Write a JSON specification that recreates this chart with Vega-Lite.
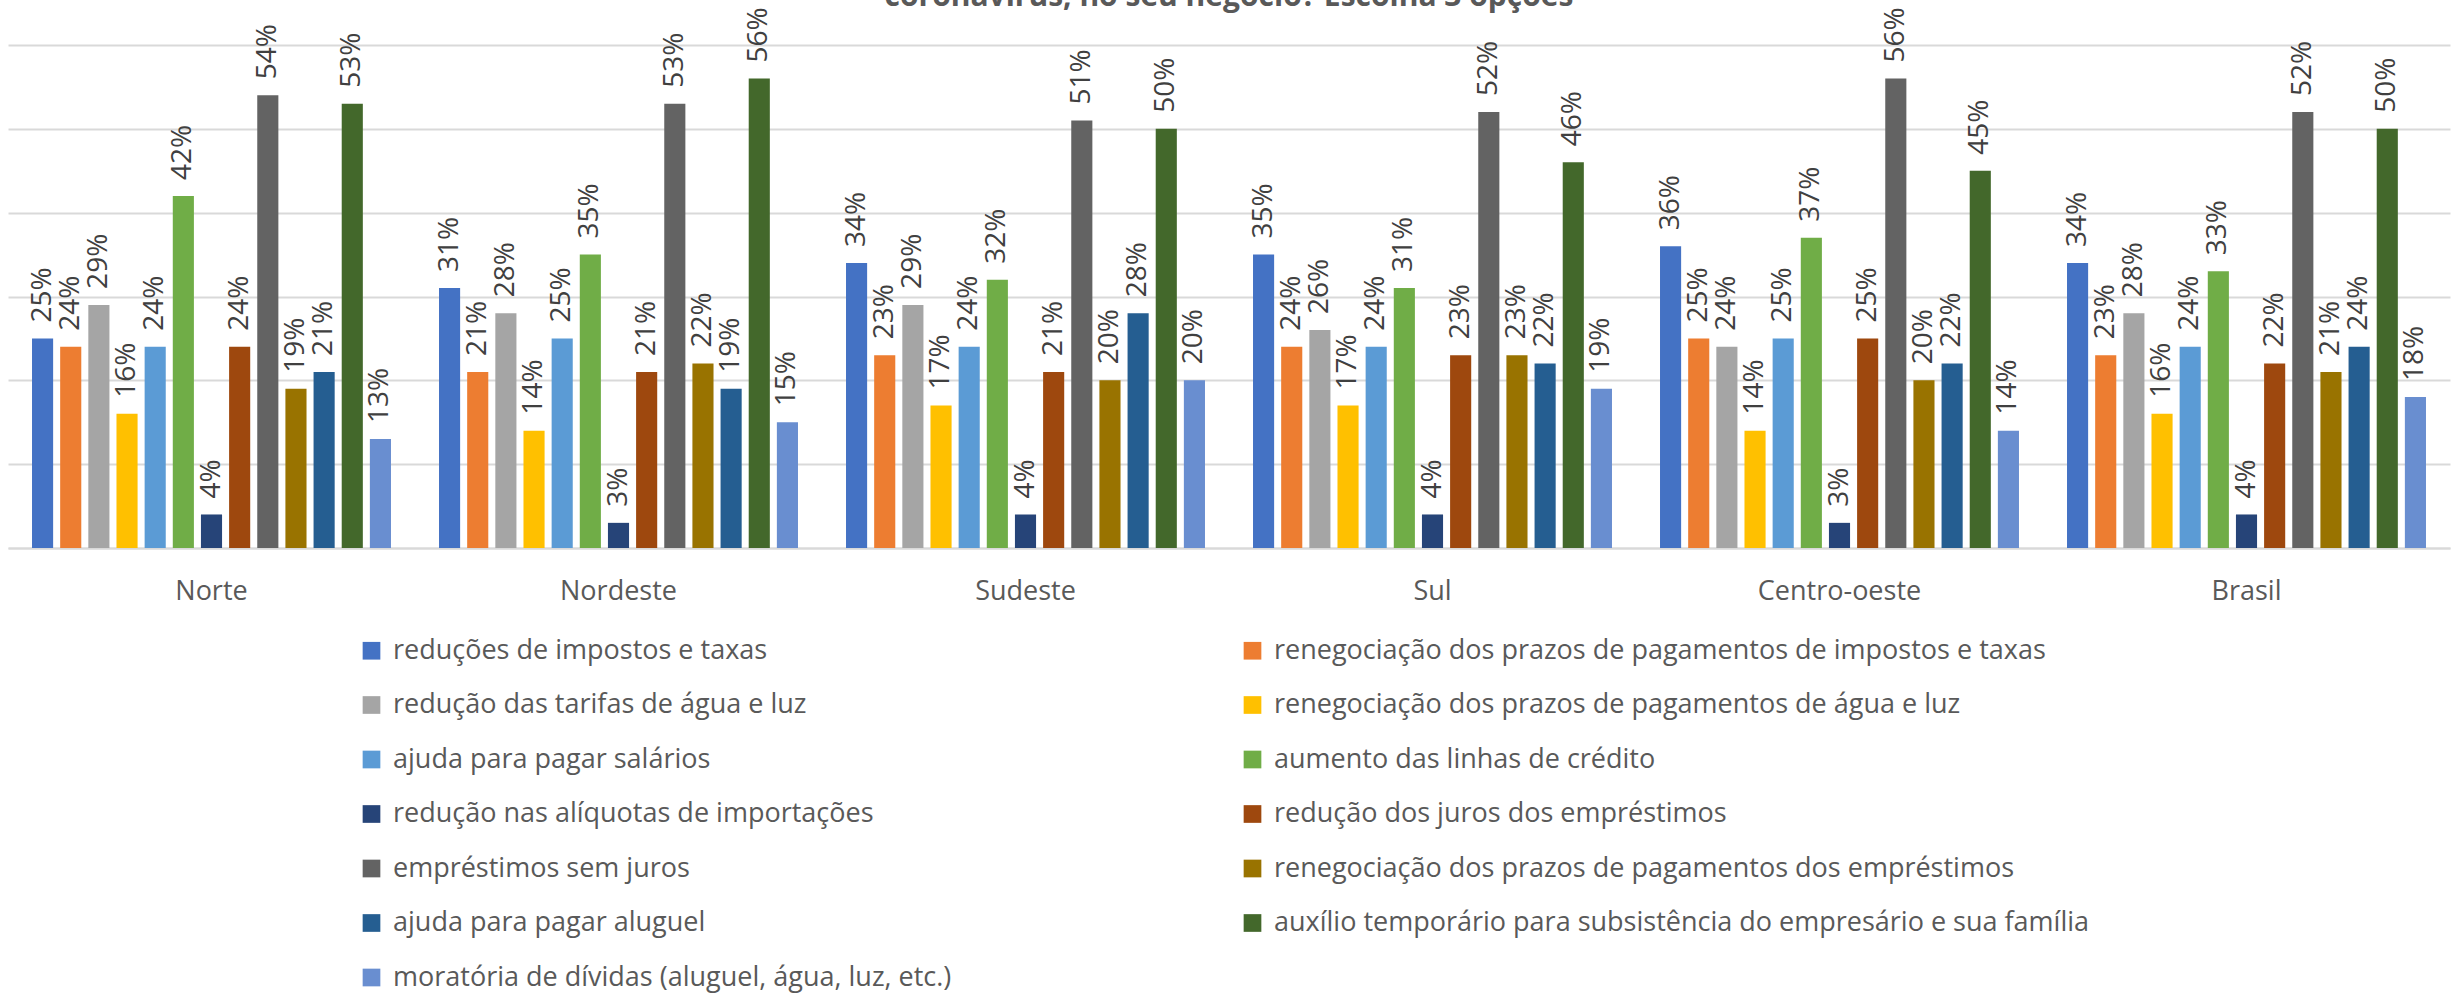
{
  "$schema": "https://vega.github.io/schema/vega-lite/v6.json",
  "autosize": {"type": "none"},
  "width": 2442,
  "height": 503,
  "padding": {"left": 8, "top": 45, "right": 9, "bottom": 452},
  "background": "white",
  "title": {
    "text": "coronavírus, no seu negócio? Escolha 3 opções",
    "fontSize": 30,
    "fontWeight": "bold",
    "color": "#595959",
    "baseline": "alphabetic",
    "anchor": "middle",
    "frame": "group",
    "offset": -29
  },
  "config": {
    "font": "Open Sans",
    "view": {"stroke": null}
  },
  "data": {
    "values": [
      {"r": "Norte", "s": "reduções de impostos e taxas", "v": 0.25},
      {"r": "Norte", "s": "renegociação dos prazos de pagamentos de impostos e taxas", "v": 0.24},
      {"r": "Norte", "s": "redução das tarifas de água e luz", "v": 0.29},
      {"r": "Norte", "s": "renegociação dos prazos de pagamentos de água e luz", "v": 0.16},
      {"r": "Norte", "s": "ajuda para pagar salários", "v": 0.24},
      {"r": "Norte", "s": "aumento das linhas de crédito", "v": 0.42},
      {"r": "Norte", "s": "redução nas alíquotas de importações", "v": 0.04},
      {"r": "Norte", "s": "redução dos juros dos empréstimos", "v": 0.24},
      {"r": "Norte", "s": "empréstimos sem juros", "v": 0.54},
      {"r": "Norte", "s": "renegociação dos prazos de pagamentos dos empréstimos", "v": 0.19},
      {"r": "Norte", "s": "ajuda para pagar aluguel", "v": 0.21},
      {"r": "Norte", "s": "auxílio temporário para subsistência do empresário e sua família", "v": 0.53},
      {"r": "Norte", "s": "moratória de dívidas (aluguel, água, luz, etc.)", "v": 0.13},
      {"r": "Nordeste", "s": "reduções de impostos e taxas", "v": 0.31},
      {"r": "Nordeste", "s": "renegociação dos prazos de pagamentos de impostos e taxas", "v": 0.21},
      {"r": "Nordeste", "s": "redução das tarifas de água e luz", "v": 0.28},
      {"r": "Nordeste", "s": "renegociação dos prazos de pagamentos de água e luz", "v": 0.14},
      {"r": "Nordeste", "s": "ajuda para pagar salários", "v": 0.25},
      {"r": "Nordeste", "s": "aumento das linhas de crédito", "v": 0.35},
      {"r": "Nordeste", "s": "redução nas alíquotas de importações", "v": 0.03},
      {"r": "Nordeste", "s": "redução dos juros dos empréstimos", "v": 0.21},
      {"r": "Nordeste", "s": "empréstimos sem juros", "v": 0.53},
      {"r": "Nordeste", "s": "renegociação dos prazos de pagamentos dos empréstimos", "v": 0.22},
      {"r": "Nordeste", "s": "ajuda para pagar aluguel", "v": 0.19},
      {"r": "Nordeste", "s": "auxílio temporário para subsistência do empresário e sua família", "v": 0.56},
      {"r": "Nordeste", "s": "moratória de dívidas (aluguel, água, luz, etc.)", "v": 0.15},
      {"r": "Sudeste", "s": "reduções de impostos e taxas", "v": 0.34},
      {"r": "Sudeste", "s": "renegociação dos prazos de pagamentos de impostos e taxas", "v": 0.23},
      {"r": "Sudeste", "s": "redução das tarifas de água e luz", "v": 0.29},
      {"r": "Sudeste", "s": "renegociação dos prazos de pagamentos de água e luz", "v": 0.17},
      {"r": "Sudeste", "s": "ajuda para pagar salários", "v": 0.24},
      {"r": "Sudeste", "s": "aumento das linhas de crédito", "v": 0.32},
      {"r": "Sudeste", "s": "redução nas alíquotas de importações", "v": 0.04},
      {"r": "Sudeste", "s": "redução dos juros dos empréstimos", "v": 0.21},
      {"r": "Sudeste", "s": "empréstimos sem juros", "v": 0.51},
      {"r": "Sudeste", "s": "renegociação dos prazos de pagamentos dos empréstimos", "v": 0.20},
      {"r": "Sudeste", "s": "ajuda para pagar aluguel", "v": 0.28},
      {"r": "Sudeste", "s": "auxílio temporário para subsistência do empresário e sua família", "v": 0.50},
      {"r": "Sudeste", "s": "moratória de dívidas (aluguel, água, luz, etc.)", "v": 0.20},
      {"r": "Sul", "s": "reduções de impostos e taxas", "v": 0.35},
      {"r": "Sul", "s": "renegociação dos prazos de pagamentos de impostos e taxas", "v": 0.24},
      {"r": "Sul", "s": "redução das tarifas de água e luz", "v": 0.26},
      {"r": "Sul", "s": "renegociação dos prazos de pagamentos de água e luz", "v": 0.17},
      {"r": "Sul", "s": "ajuda para pagar salários", "v": 0.24},
      {"r": "Sul", "s": "aumento das linhas de crédito", "v": 0.31},
      {"r": "Sul", "s": "redução nas alíquotas de importações", "v": 0.04},
      {"r": "Sul", "s": "redução dos juros dos empréstimos", "v": 0.23},
      {"r": "Sul", "s": "empréstimos sem juros", "v": 0.52},
      {"r": "Sul", "s": "renegociação dos prazos de pagamentos dos empréstimos", "v": 0.23},
      {"r": "Sul", "s": "ajuda para pagar aluguel", "v": 0.22},
      {"r": "Sul", "s": "auxílio temporário para subsistência do empresário e sua família", "v": 0.46},
      {"r": "Sul", "s": "moratória de dívidas (aluguel, água, luz, etc.)", "v": 0.19},
      {"r": "Centro-oeste", "s": "reduções de impostos e taxas", "v": 0.36},
      {"r": "Centro-oeste", "s": "renegociação dos prazos de pagamentos de impostos e taxas", "v": 0.25},
      {"r": "Centro-oeste", "s": "redução das tarifas de água e luz", "v": 0.24},
      {"r": "Centro-oeste", "s": "renegociação dos prazos de pagamentos de água e luz", "v": 0.14},
      {"r": "Centro-oeste", "s": "ajuda para pagar salários", "v": 0.25},
      {"r": "Centro-oeste", "s": "aumento das linhas de crédito", "v": 0.37},
      {"r": "Centro-oeste", "s": "redução nas alíquotas de importações", "v": 0.03},
      {"r": "Centro-oeste", "s": "redução dos juros dos empréstimos", "v": 0.25},
      {"r": "Centro-oeste", "s": "empréstimos sem juros", "v": 0.56},
      {"r": "Centro-oeste", "s": "renegociação dos prazos de pagamentos dos empréstimos", "v": 0.20},
      {"r": "Centro-oeste", "s": "ajuda para pagar aluguel", "v": 0.22},
      {"r": "Centro-oeste", "s": "auxílio temporário para subsistência do empresário e sua família", "v": 0.45},
      {"r": "Centro-oeste", "s": "moratória de dívidas (aluguel, água, luz, etc.)", "v": 0.14},
      {"r": "Brasil", "s": "reduções de impostos e taxas", "v": 0.34},
      {"r": "Brasil", "s": "renegociação dos prazos de pagamentos de impostos e taxas", "v": 0.23},
      {"r": "Brasil", "s": "redução das tarifas de água e luz", "v": 0.28},
      {"r": "Brasil", "s": "renegociação dos prazos de pagamentos de água e luz", "v": 0.16},
      {"r": "Brasil", "s": "ajuda para pagar salários", "v": 0.24},
      {"r": "Brasil", "s": "aumento das linhas de crédito", "v": 0.33},
      {"r": "Brasil", "s": "redução nas alíquotas de importações", "v": 0.04},
      {"r": "Brasil", "s": "redução dos juros dos empréstimos", "v": 0.22},
      {"r": "Brasil", "s": "empréstimos sem juros", "v": 0.52},
      {"r": "Brasil", "s": "renegociação dos prazos de pagamentos dos empréstimos", "v": 0.21},
      {"r": "Brasil", "s": "ajuda para pagar aluguel", "v": 0.24},
      {"r": "Brasil", "s": "auxílio temporário para subsistência do empresário e sua família", "v": 0.50},
      {"r": "Brasil", "s": "moratória de dívidas (aluguel, água, luz, etc.)", "v": 0.18}
    ]
  },
  "encoding": {
    "x": {
      "field": "r",
      "type": "nominal",
      "sort": ["Norte", "Nordeste", "Sudeste", "Sul", "Centro-oeste", "Brasil"],
      "scale": {"paddingInner": 0.118, "paddingOuter": 0.059},
      "axis": {
        "title": null,
        "labelAngle": 0,
        "labelFontSize": 27,
        "labelColor": "#595959",
        "labelPadding": 30,
        "ticks": false,
        "domainColor": "#d9d9d9",
        "domainWidth": 2
      }
    },
    "xOffset": {
      "field": "s",
      "type": "nominal",
      "sort": [
        "reduções de impostos e taxas",
        "renegociação dos prazos de pagamentos de impostos e taxas",
        "redução das tarifas de água e luz",
        "renegociação dos prazos de pagamentos de água e luz",
        "ajuda para pagar salários",
        "aumento das linhas de crédito",
        "redução nas alíquotas de importações",
        "redução dos juros dos empréstimos",
        "empréstimos sem juros",
        "renegociação dos prazos de pagamentos dos empréstimos",
        "ajuda para pagar aluguel",
        "auxílio temporário para subsistência do empresário e sua família",
        "moratória de dívidas (aluguel, água, luz, etc.)"
      ],
      "scale": {"paddingInner": 0.25, "paddingOuter": 0}
    },
    "y": {
      "field": "v",
      "type": "quantitative",
      "scale": {"domain": [0, 0.6], "nice": false},
      "axis": {
        "title": null,
        "labels": false,
        "ticks": false,
        "domain": false,
        "values": [0, 0.1, 0.2, 0.3, 0.4, 0.5, 0.6],
        "gridColor": "#d9d9d9",
        "gridWidth": 2
      }
    }
  },
  "layer": [
    {
      "mark": {"type": "bar"},
      "encoding": {
        "color": {
          "field": "s",
          "type": "nominal",
          "scale": {
            "domain": [
              "reduções de impostos e taxas",
              "renegociação dos prazos de pagamentos de impostos e taxas",
              "redução das tarifas de água e luz",
              "renegociação dos prazos de pagamentos de água e luz",
              "ajuda para pagar salários",
              "aumento das linhas de crédito",
              "redução nas alíquotas de importações",
              "redução dos juros dos empréstimos",
              "empréstimos sem juros",
              "renegociação dos prazos de pagamentos dos empréstimos",
              "ajuda para pagar aluguel",
              "auxílio temporário para subsistência do empresário e sua família",
              "moratória de dívidas (aluguel, água, luz, etc.)"
            ],
            "range": ["#4472C4", "#ED7D31", "#A5A5A5", "#FFC000", "#5B9BD5", "#70AD47", "#264478", "#9E480E", "#636363", "#997300", "#255E91", "#43682B", "#698ED0"]
          },
          "legend": {
            "title": null,
            "orient": "none",
            "legendX": 350,
            "legendY": 592,
            "direction": "horizontal",
            "columns": 2,
            "gridAlign": "all",
            "columnPadding": 30,
            "rowPadding": 26.5,
            "symbolType": "square",
            "symbolSize": 313,
            "symbolStrokeWidth": 0,
            "labelFontSize": 27,
            "labelColor": "#595959",
            "labelOffset": 8,
            "labelLimit": 2000,
            "padding": 0
          }
        }
      }
    },
    {
      "mark": {
        "type": "text",
        "angle": 270,
        "align": "left",
        "baseline": "middle",
        "dx": 16,
        "fontSize": 28,
        "color": "#404040"
      },
      "encoding": {
        "text": {"field": "v", "type": "quantitative", "format": ".0%"}
      }
    }
  ]
}
